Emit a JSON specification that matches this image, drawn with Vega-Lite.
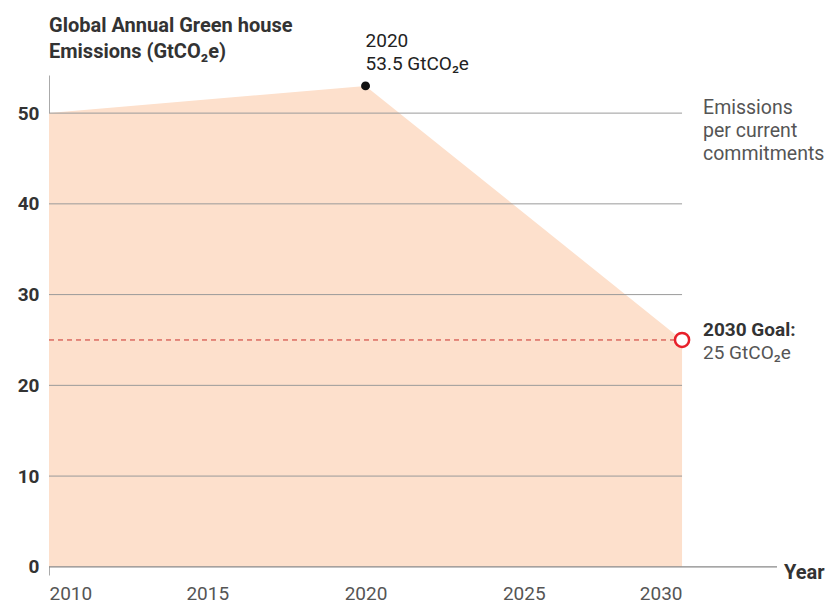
{
  "$schema": "https://vega.github.io/schema/vega-lite/v6.json",
  "width": 728,
  "height": 500,
  "padding": {"left": 17, "top": 16, "right": 0, "bottom": 0},
  "config": {"font": "Roboto", "view": {"stroke": null}},
  "layer": [
    {
      "data": {"values": [
        {"year": 2010, "emissions": 50},
        {"year": 2020, "emissions": 53},
        {"year": 2030, "emissions": 25}
      ]},
      "mark": {"type": "area", "color": "#fde0cc", "opacity": 1},
      "encoding": {
        "x": {
          "field": "year", "type": "quantitative",
          "scale": {"domain": [2010, 2033], "nice": false, "zero": false},
          "axis": {
            "values": [2010, 2015, 2020, 2025, 2030],
            "format": "d",
            "domain": false,
            "ticks": false,
            "grid": false,
            "labelFlush": false,
            "labelPadding": 9,
            "labelFontSize": 19,
            "labelColor": "#555555",
            "labelAlign": {"condition": [{"test": "datum.value == 2010", "value": "left"}, {"test": "datum.value == 2030", "value": "right"}], "value": "center"},
            "title": null
          }
        },
        "y": {
          "field": "emissions", "type": "quantitative",
          "scale": {"domain": [-0.9, 54.2], "nice": false, "zero": false},
          "axis": {
            "values": [0, 10, 20, 30, 40, 50],
            "ticks": false,
            "grid": false,
            "domain": true,
            "domainColor": "#aaaaaa",
            "labelFontSize": 19,
            "labelFontWeight": "bold",
            "labelColor": "#333333",
            "labelPadding": 10,
            "title": null
          }
        }
      }
    },
    {
      "data": {"values": [{"g": 10}, {"g": 20}, {"g": 30}, {"g": 40}, {"g": 50}]},
      "mark": {"type": "rule", "color": "#9a9a9a", "strokeWidth": 1},
      "encoding": {
        "y": {"field": "g", "type": "quantitative"},
        "x": {"datum": 2010},
        "x2": {"datum": 2030}
      }
    },
    {
      "data": {"values": [{"base": 0}]},
      "mark": {"type": "rule", "color": "#888888", "strokeWidth": 1.2},
      "encoding": {
        "y": {"field": "base", "type": "quantitative"},
        "x": {"datum": 2010},
        "x2": {"datum": 2033}
      }
    },
    {
      "data": {"values": [{"goal": 25}]},
      "mark": {"type": "rule", "color": "#c9302c", "strokeWidth": 1, "strokeDash": [5, 4]},
      "encoding": {
        "y": {"field": "goal", "type": "quantitative"},
        "x": {"datum": 2010},
        "x2": {"datum": 2030}
      }
    },
    {
      "data": {"values": [{"year": 2020, "emissions": 53}]},
      "mark": {"type": "point", "filled": true, "color": "#111111", "size": 80, "opacity": 1},
      "encoding": {
        "x": {"field": "year", "type": "quantitative"},
        "y": {"field": "emissions", "type": "quantitative"}
      }
    },
    {
      "data": {"values": [{"year": 2030, "emissions": 25}]},
      "mark": {"type": "point", "shape": "circle", "fill": "#ffffff", "fillOpacity": 1, "stroke": "#e8202a", "strokeWidth": 2.5, "size": 200, "opacity": 1},
      "encoding": {
        "x": {"field": "year", "type": "quantitative"},
        "y": {"field": "emissions", "type": "quantitative"}
      }
    },
    {
      "data": {"values": [{"year": 2010, "emissions": 54.2, "label": "Global Annual Green house\nEmissions (GtCO₂e)"}]},
      "mark": {"type": "text", "align": "left", "baseline": "alphabetic", "lineBreak": "\n", "lineHeight": 26, "fontSize": 20, "fontWeight": "bold", "color": "#333333", "dx": 0, "dy": -43},
      "encoding": {
        "x": {"field": "year", "type": "quantitative"},
        "y": {"field": "emissions", "type": "quantitative"},
        "text": {"field": "label"}
      }
    },
    {
      "data": {"values": [{"year": 2020, "emissions": 53, "label": "2020\n53.5 GtCO₂e"}]},
      "mark": {"type": "text", "align": "left", "baseline": "alphabetic", "lineBreak": "\n", "lineHeight": 23, "fontSize": 19, "color": "#222222", "dx": 0, "dy": -39},
      "encoding": {
        "x": {"field": "year", "type": "quantitative"},
        "y": {"field": "emissions", "type": "quantitative"},
        "text": {"field": "label"}
      }
    },
    {
      "data": {"values": [{"year": 2030, "emissions": 50, "label": "Emissions\nper current\ncommitments"}]},
      "mark": {"type": "text", "align": "left", "baseline": "alphabetic", "lineBreak": "\n", "lineHeight": 23, "fontSize": 19.5, "color": "#555555", "dx": 21, "dy": 1},
      "encoding": {
        "x": {"field": "year", "type": "quantitative"},
        "y": {"field": "emissions", "type": "quantitative"},
        "text": {"field": "label"}
      }
    },
    {
      "data": {"values": [{"year": 2030, "emissions": 25, "label": "2030 Goal:"}]},
      "mark": {"type": "text", "align": "left", "baseline": "alphabetic", "fontSize": 19, "fontWeight": "bold", "color": "#333333", "dx": 21, "dy": -4},
      "encoding": {
        "x": {"field": "year", "type": "quantitative"},
        "y": {"field": "emissions", "type": "quantitative"},
        "text": {"field": "label"}
      }
    },
    {
      "data": {"values": [{"year": 2030, "emissions": 25, "label": "25 GtCO₂e"}]},
      "mark": {"type": "text", "align": "left", "baseline": "alphabetic", "fontSize": 19, "color": "#555555", "dx": 21, "dy": 19},
      "encoding": {
        "x": {"field": "year", "type": "quantitative"},
        "y": {"field": "emissions", "type": "quantitative"},
        "text": {"field": "label"}
      }
    },
    {
      "data": {"values": [{"year": 2033, "emissions": 0, "label": "Year"}]},
      "mark": {"type": "text", "align": "left", "baseline": "middle", "fontSize": 20, "fontWeight": "bold", "color": "#333333", "dx": 7, "dy": 6},
      "encoding": {
        "x": {"field": "year", "type": "quantitative"},
        "y": {"field": "emissions", "type": "quantitative"},
        "text": {"field": "label"}
      }
    }
  ]
}
